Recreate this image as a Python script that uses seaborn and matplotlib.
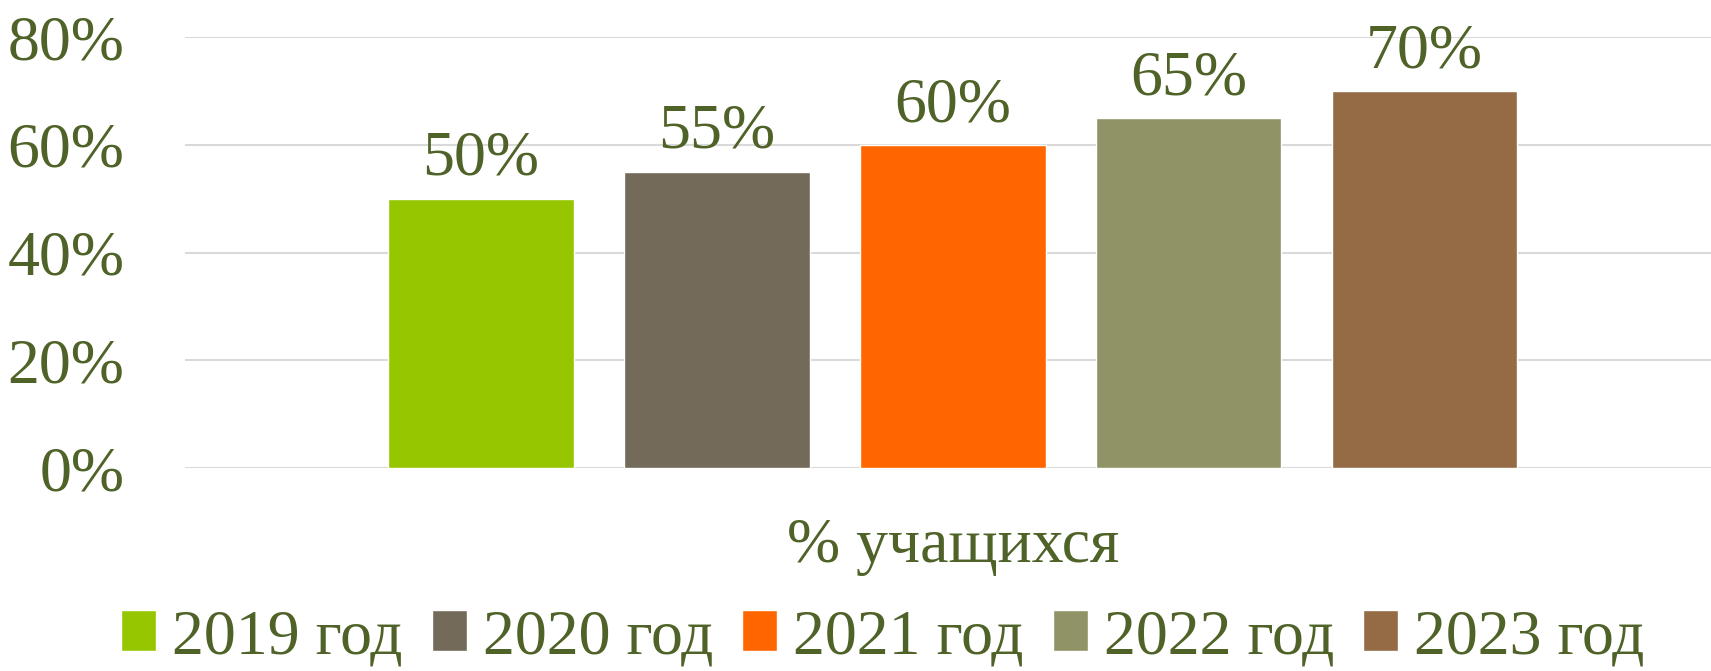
import matplotlib
matplotlib.use("Agg")
import matplotlib.pyplot as plt
import seaborn as sns
import pandas as pd
from matplotlib.ticker import FuncFormatter, MultipleLocator

category = "% учащихся"
years = ["2019 год", "2020 год", "2021 год", "2022 год", "2023 год"]
values = [50, 55, 60, 65, 70]
colors = ["#95C600", "#736A5A", "#FF6600", "#909366", "#956B45"]

TEXT = "#4F6228"
FS = 46

sns.set_theme(style="white")
plt.rcParams["font.family"] = ["Liberation Serif", "DejaVu Serif"]

df = pd.DataFrame({"cat": [category] * len(years), "year": years, "value": values})

fig = plt.figure(figsize=(17.11, 6.71), dpi=100)
ax = fig.add_axes([0.1084, 0.3025, 0.8916, 0.6423])

sns.barplot(data=df, x="cat", y="value", hue="year", palette=colors,
            width=0.773, gap=0.213, ax=ax, legend=True, saturation=1)

ax.set_ylim(0, 80)
ax.set_xlim(-0.503, 0.497)
ax.yaxis.set_major_locator(MultipleLocator(20))
ax.yaxis.set_major_formatter(FuncFormatter(lambda v, p: f"{v:.0f}%"))
ax.grid(axis="y", color="#D9D9D9", linewidth=1.5)
ax.set_axisbelow(True)
for s in ax.spines.values():
    s.set_visible(False)
ax.tick_params(axis="y", length=0, pad=44, labelsize=FS, labelcolor=TEXT)
ax.tick_params(axis="x", length=0, pad=36, labelsize=FS, labelcolor=TEXT)
ax.set_xlabel("")
ax.set_ylabel("")

for cont in ax.containers:
    ax.bar_label(cont, labels=[f"{v:.0f}%" for v in cont.datavalues],
                 padding=7, fontsize=FS, color=TEXT, clip_on=False)

handles, labels = ax.get_legend_handles_labels()
ax.get_legend().remove()
fig.legend(handles, labels, loc="center", bbox_to_anchor=(0.516, 1 - 638 / 671),
           ncol=5, frameon=False, fontsize=FS, labelcolor=TEXT,
           handlelength=0.55, handleheight=0.6, handletextpad=0.25,
           columnspacing=0.45, borderpad=0)

fig.savefig("out.png", dpi=100)
